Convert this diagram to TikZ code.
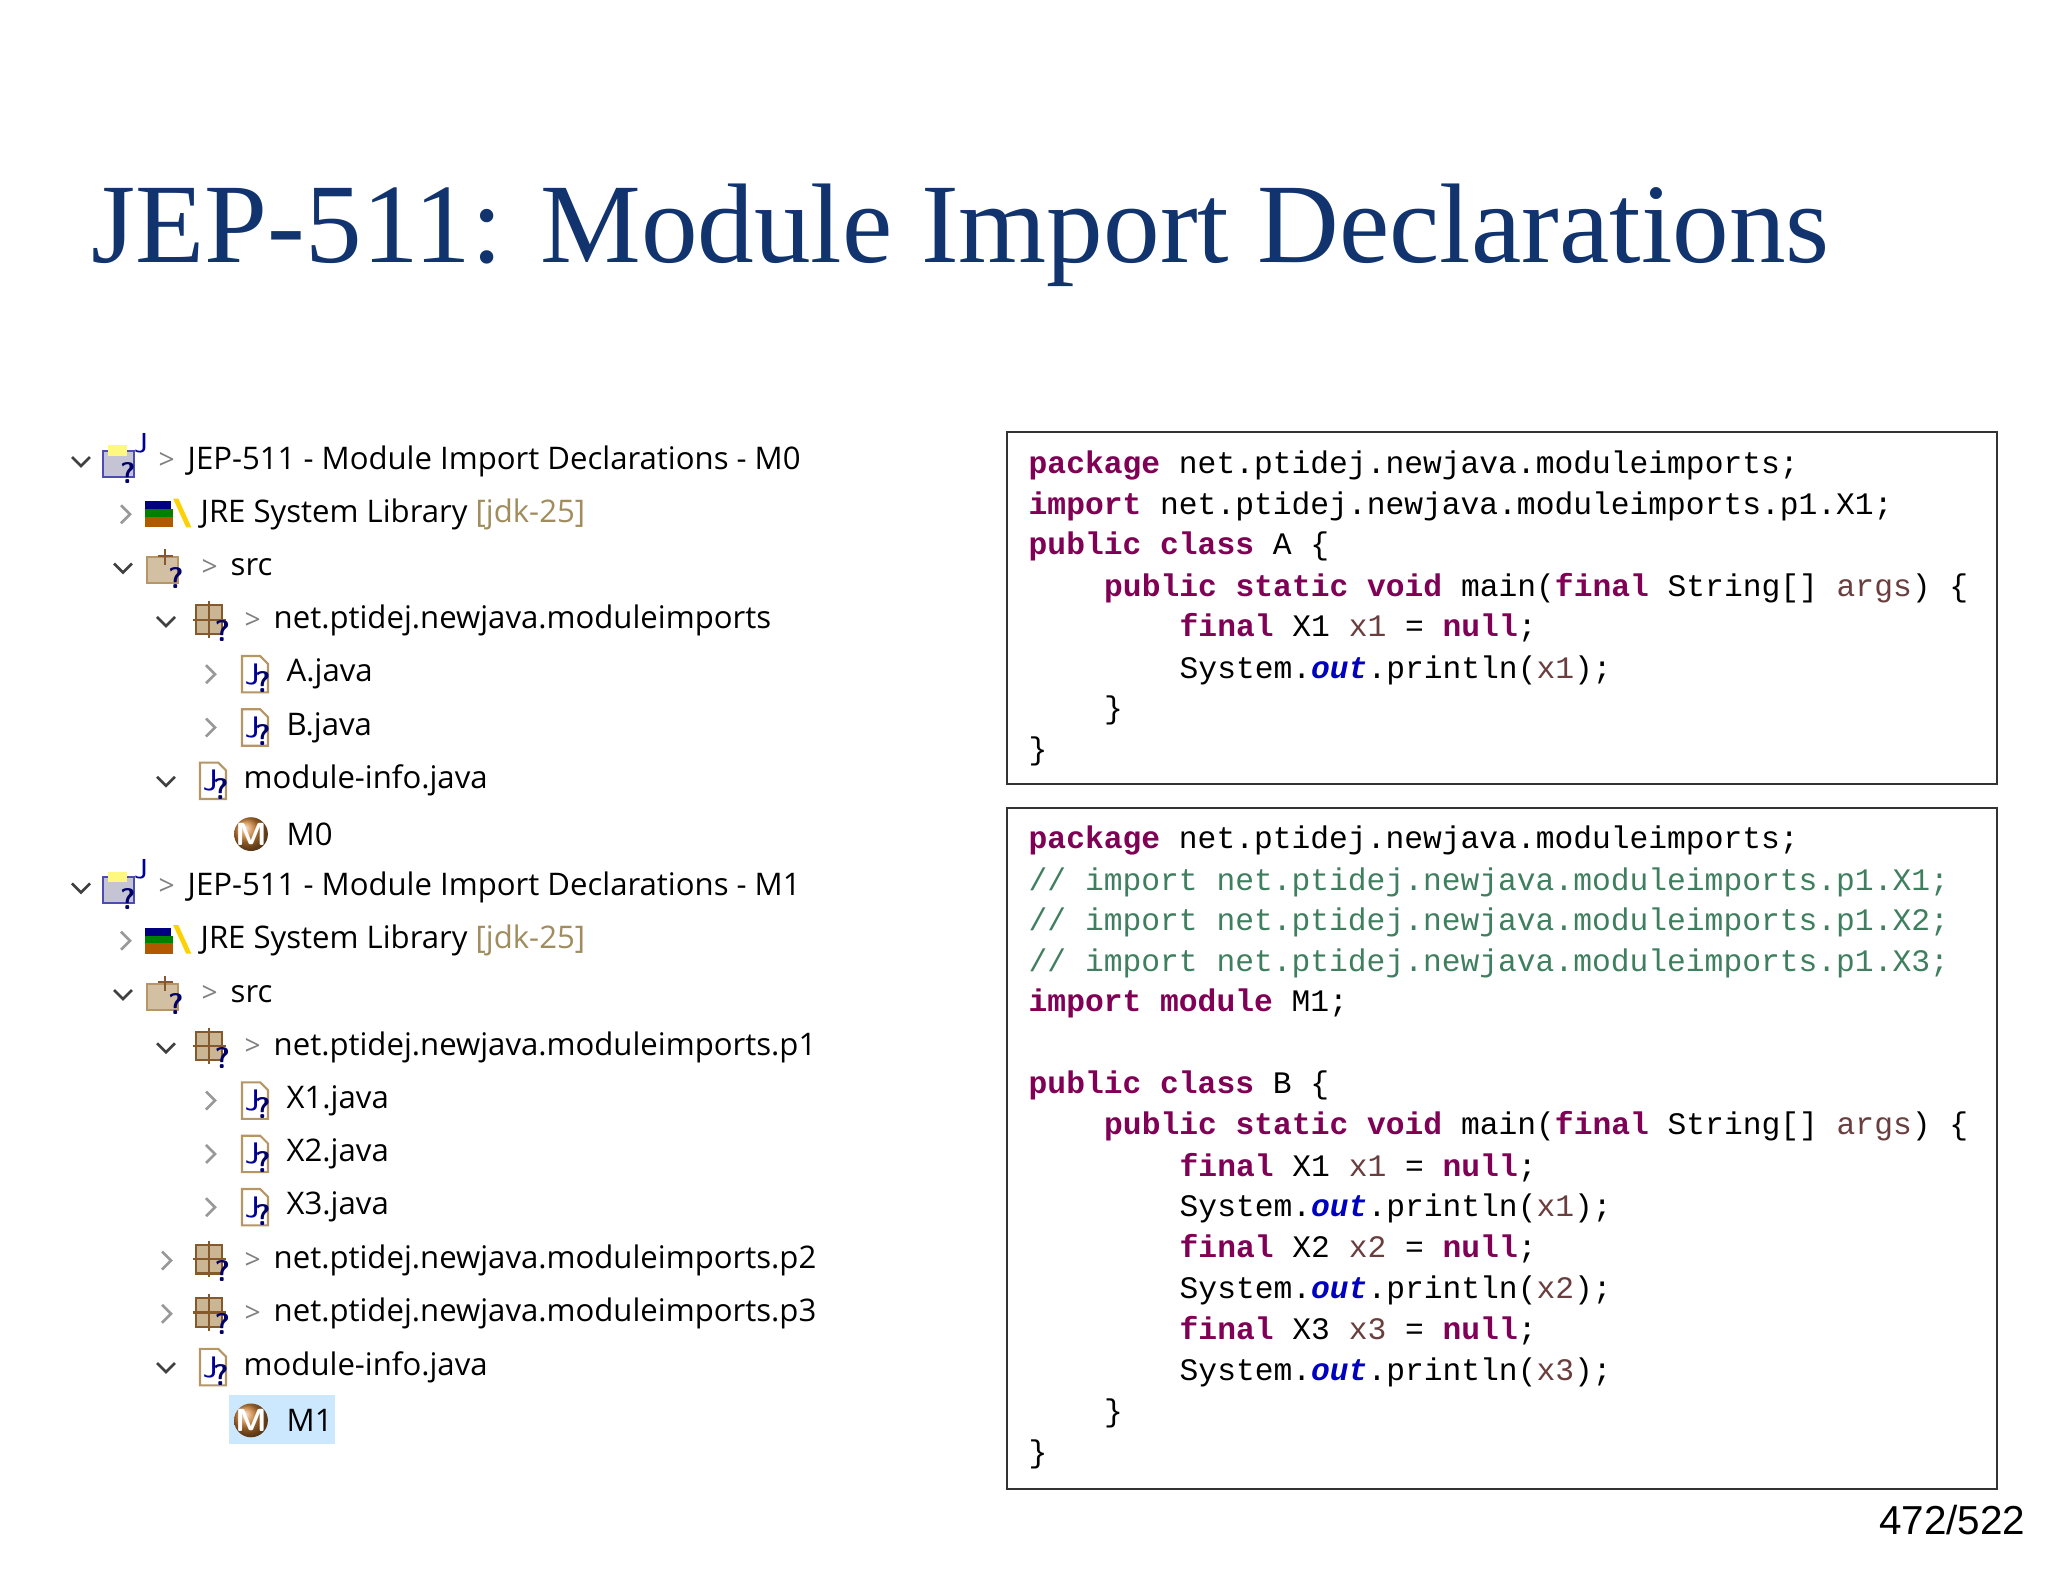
\documentclass[tikz,border=0pt]{standalone}
\usepackage{fontspec}
\setmainfont{Liberation Serif}
\setmonofont{Liberation Mono}
\newfontfamily\treefont{Open Sans}
\newfontfamily\pagefont{Liberation Sans}
\definecolor{titleblue}{RGB}{18,52,110}
\definecolor{kwc}{RGB}{127,0,85}
\definecolor{cmc}{RGB}{63,127,95}
\definecolor{vrc}{RGB}{106,62,62}
\definecolor{otc}{RGB}{0,0,192}
\definecolor{gold}{RGB}{160,140,92}
\definecolor{tan}{RGB}{181,150,100}
\definecolor{hl}{RGB}{204,232,255}
\newcommand\kw[1]{\textcolor{kwc}{\bfseries #1}}
\newcommand\cmt[1]{\textcolor{cmc}{#1}}
\newcommand\vr[1]{\textcolor{vrc}{#1}}
\newcommand\ot[1]{\textcolor{otc}{\bfseries\itshape #1}}
\tikzset{
  x=0.01cm,y=-0.01cm,
  tree/.style={anchor=west,inner sep=0pt,font=\treefont\fontsize{8.85}{11}\selectfont},
  sep/.style={anchor=west,inner sep=0pt,text=gray,font=\treefont\fontsize{8}{10}\selectfont},
  code/.style={anchor=west,inner sep=0pt,font=\ttfamily\fontsize{8.9}{11}\selectfont},
  codebox/.style={draw=black!80,line width=0.6pt},
  chd/.style={draw=black!75,line width=0.75pt},
  chr/.style={draw=black!40,line width=0.75pt},
  q/.style={inner sep=0pt,text=blue!40!black,font=\sffamily\bfseries\fontsize{6.5}{6.5}\selectfont},
  jfile/.pic={\draw[tan,fill=white,line width=0.6pt] (-10,-14)--(4,-14)--(10,-8)--(10,14)--(-10,14)--cycle;
    \node[inner sep=0pt,text=blue!60!black,font=\sffamily\fontsize{6.5}{6.5}\selectfont] at (-2,0) {J};
    \node[q] at (6,6) {?};},
  pkg/.pic={\fill[tan!70] (-12,-12) rectangle (8,10);
    \draw[brown!70!black,line width=0.6pt] (-12,-12) rectangle (8,10) (-2,-15)--(-2,13) (-15,-1)--(11,-1);
    \node[q] at (8,8) {?};},
  lib/.pic={\fill[green!50!black] (-18,-4) rectangle (4,2); \fill[blue!50!black] (-18,-10) rectangle (2,-4);
    \fill[orange!70!black] (-18,2) rectangle (4,10);
    \fill[yellow!70!orange] (4,-12)--(8,-12)--(18,10)--(14,10)--cycle;},
  proj/.pic={\fill[blue!15!gray!40] (-16,-8) rectangle (8,12); \draw[blue!40!gray,line width=0.6pt] (-16,-8) rectangle (8,12);
    \fill[yellow!50] (-12,-12) rectangle (2,-4);
    \node[inner sep=0pt,text=blue!60!black,font=\sffamily\fontsize{6}{6}\selectfont] at (13,-14) {J};
    \node[q] at (3,9) {?};},
  srcf/.pic={\fill[tan!60] (-16,-8) rectangle (8,12); \draw[tan,line width=0.6pt] (-16,-8) rectangle (8,12);
    \draw[brown!70!black,line width=0.6pt] (-2,-14)--(-2,-2) (-8,-9)--(4,-9);
    \node[q] at (6,8) {?};},
  modic/.pic={\shade[ball color=brown!80!orange] (0,0) circle (13);
    \node[inner sep=0pt,text=white,font=\sffamily\bfseries\fontsize{7}{7}\selectfont] at (0,0) {M};},
  ic/.style={scale=1.3,transform shape},
}
\newcommand\chd[2]{\draw[chd] (#1-9,#2-4)--(#1,#2+5)--(#1+9,#2-4);}
\newcommand\chr[2]{\draw[chr] (#1-4,#2-9)--(#1+5,#2)--(#1-4,#2+9);}
\begin{document}
\begin{tikzpicture}
\useasboundingbox (0,0) rectangle (2048,1582);
\node[anchor=base west,inner sep=0pt,text=titleblue,font=\fontsize{32.2}{36}\selectfont] (title) at (91,262) {JEP-511: Module Import Declarations};

% ---------- tree ----------
\foreach \s/\m in {0/M0,8/M1}{
  \pgfmathsetmacro\yp{461+53.3*\s}
  \pgfmathsetmacro\yl{461+53.3*(\s+1)}
  \pgfmathsetmacro\ys{461+53.3*(\s+2)}
  \chd{81}{\yp}
  \pic[ic] at (124,\yp) {proj};
  \node[sep] (sp\m) at (158,\yp) {>};
  \node[tree] (proj\m) at (187,\yp) {JEP-511 - Module Import Declarations - \m};
  \chr{125}{\yl}
  \pic[ic] at (168,\yl) {lib};
  \node[tree] (jre\m) at (200,\yl) {JRE System Library \textcolor{gold}{[jdk-25]}};
  \chd{123}{\ys}
  \pic[ic] at (168,\ys) {srcf};
  \node[sep] (ss\m) at (201,\ys) {>};
  \node[tree] (src\m) at (230,\ys) {src};
}
% M0 section
\pgfmathsetmacro\y{461+53.3*3}
\chd{166}{\y} \pic[ic] at (212,\y) {pkg}; \node[sep] (s3) at (244,\y) {>};
\node[tree] (pk0) at (273,\y) {net.ptidej.newjava.moduleimports};
\foreach \i/\t in {4/A.java,5/B.java}{
  \pgfmathsetmacro\y{461+53.3*\i}
  \chr{210}{\y} \pic[ic] at (255,\y) {jfile};
  \node[tree] (f\i) at (286,\y) {\t};
}
\pgfmathsetmacro\y{461+53.3*6}
\chd{166}{\y} \pic[ic] at (213,\y) {jfile}; \node[tree] (mi0) at (243,\y) {module-info.java};
\pgfmathsetmacro\y{461+53.3*7}
\pic[ic] at (251,\y) {modic}; \node[tree] (m0) at (286,\y) {M0};
% M1 section
\pgfmathsetmacro\y{461+53.3*11}
\chd{166}{\y} \pic[ic] at (212,\y) {pkg}; \node[sep] (s11) at (244,\y) {>};
\node[tree] (pk1) at (273,\y) {net.ptidej.newjava.moduleimports.p1};
\foreach \i/\t in {12/X1.java,13/X2.java,14/X3.java}{
  \pgfmathsetmacro\y{461+53.3*\i}
  \chr{210}{\y} \pic[ic] at (255,\y) {jfile};
  \node[tree] (f\i) at (286,\y) {\t};
}
\foreach \i/\t in {15/p2,16/p3}{
  \pgfmathsetmacro\y{461+53.3*\i}
  \chr{166}{\y} \pic[ic] at (212,\y) {pkg}; \node[sep] (s\i) at (244,\y) {>};
  \node[tree] (pk\i) at (273,\y) {net.ptidej.newjava.moduleimports.\t};
}
\pgfmathsetmacro\y{461+53.3*17}
\chd{166}{\y} \pic[ic] at (213,\y) {jfile}; \node[tree] (mi1) at (243,\y) {module-info.java};
\pgfmathsetmacro\y{461+53.3*18}
\fill[hl] (229,\y-25) rectangle (335,\y+24);
\pic[ic] at (251,\y) {modic}; \node[tree] (m1) at (286,\y) {M1};

% ---------- code box 1 ----------
\draw[codebox] (1007,432) rectangle (1997,784);
\def\cx{1028}\def\ci{75.5}
\node[code] (a1) at (\cx,465) {\kw{package} net.ptidej.newjava.moduleimports;};
\node[code] (a2) at (\cx,506) {\kw{import} net.ptidej.newjava.moduleimports.p1.X1;};
\node[code] (a3) at (\cx,546) {\kw{public} \kw{class} A \{};
\node[code] (a4) at (\cx+\ci,588) {\kw{public} \kw{static} \kw{void} main(\kw{final} String[] \vr{args}) \{};
\node[code] (a5) at (\cx+2*\ci,628) {\kw{final} X1 \vr{x1} = \kw{null};};
\node[code] (a6) at (\cx+2*\ci,670) {System.\ot{out}.println(\vr{x1});};
\node[code] (a7) at (\cx+\ci,710) {\}};
\node[code] (a8) at (\cx,751) {\}};

% ---------- code box 2 ----------
\draw[codebox] (1007,808) rectangle (1997,1489);
\node[code] (b1) at (\cx,840) {\kw{package} net.ptidej.newjava.moduleimports;};
\node[code] (b2) at (\cx,882) {\cmt{// import net.ptidej.newjava.moduleimports.p1.X1;}};
\node[code] (b3) at (\cx,922) {\cmt{// import net.ptidej.newjava.moduleimports.p1.X2;}};
\node[code] (b4) at (\cx,963) {\cmt{// import net.ptidej.newjava.moduleimports.p1.X3;}};
\node[code] (b5) at (\cx,1003) {\kw{import} \kw{module} M1;};
\node[code] (b6) at (\cx,1085) {\kw{public} \kw{class} B \{};
\node[code] (b7) at (\cx+\ci,1126) {\kw{public} \kw{static} \kw{void} main(\kw{final} String[] \vr{args}) \{};
\node[code] (b8) at (\cx+2*\ci,1168) {\kw{final} X1 \vr{x1} = \kw{null};};
\node[code] (b9) at (\cx+2*\ci,1208) {System.\ot{out}.println(\vr{x1});};
\node[code] (b10) at (\cx+2*\ci,1249) {\kw{final} X2 \vr{x2} = \kw{null};};
\node[code] (b11) at (\cx+2*\ci,1290) {System.\ot{out}.println(\vr{x2});};
\node[code] (b12) at (\cx+2*\ci,1331) {\kw{final} X3 \vr{x3} = \kw{null};};
\node[code] (b13) at (\cx+2*\ci,1372) {System.\ot{out}.println(\vr{x3});};
\node[code] (b14) at (\cx+\ci,1413) {\}};
\node[code] (b15) at (\cx,1454) {\}};

\node[anchor=base east,inner sep=0pt,font=\pagefont\fontsize{11.5}{13}\selectfont] (pg) at (2026,1534) {472/522};
\end{tikzpicture}
\end{document}
